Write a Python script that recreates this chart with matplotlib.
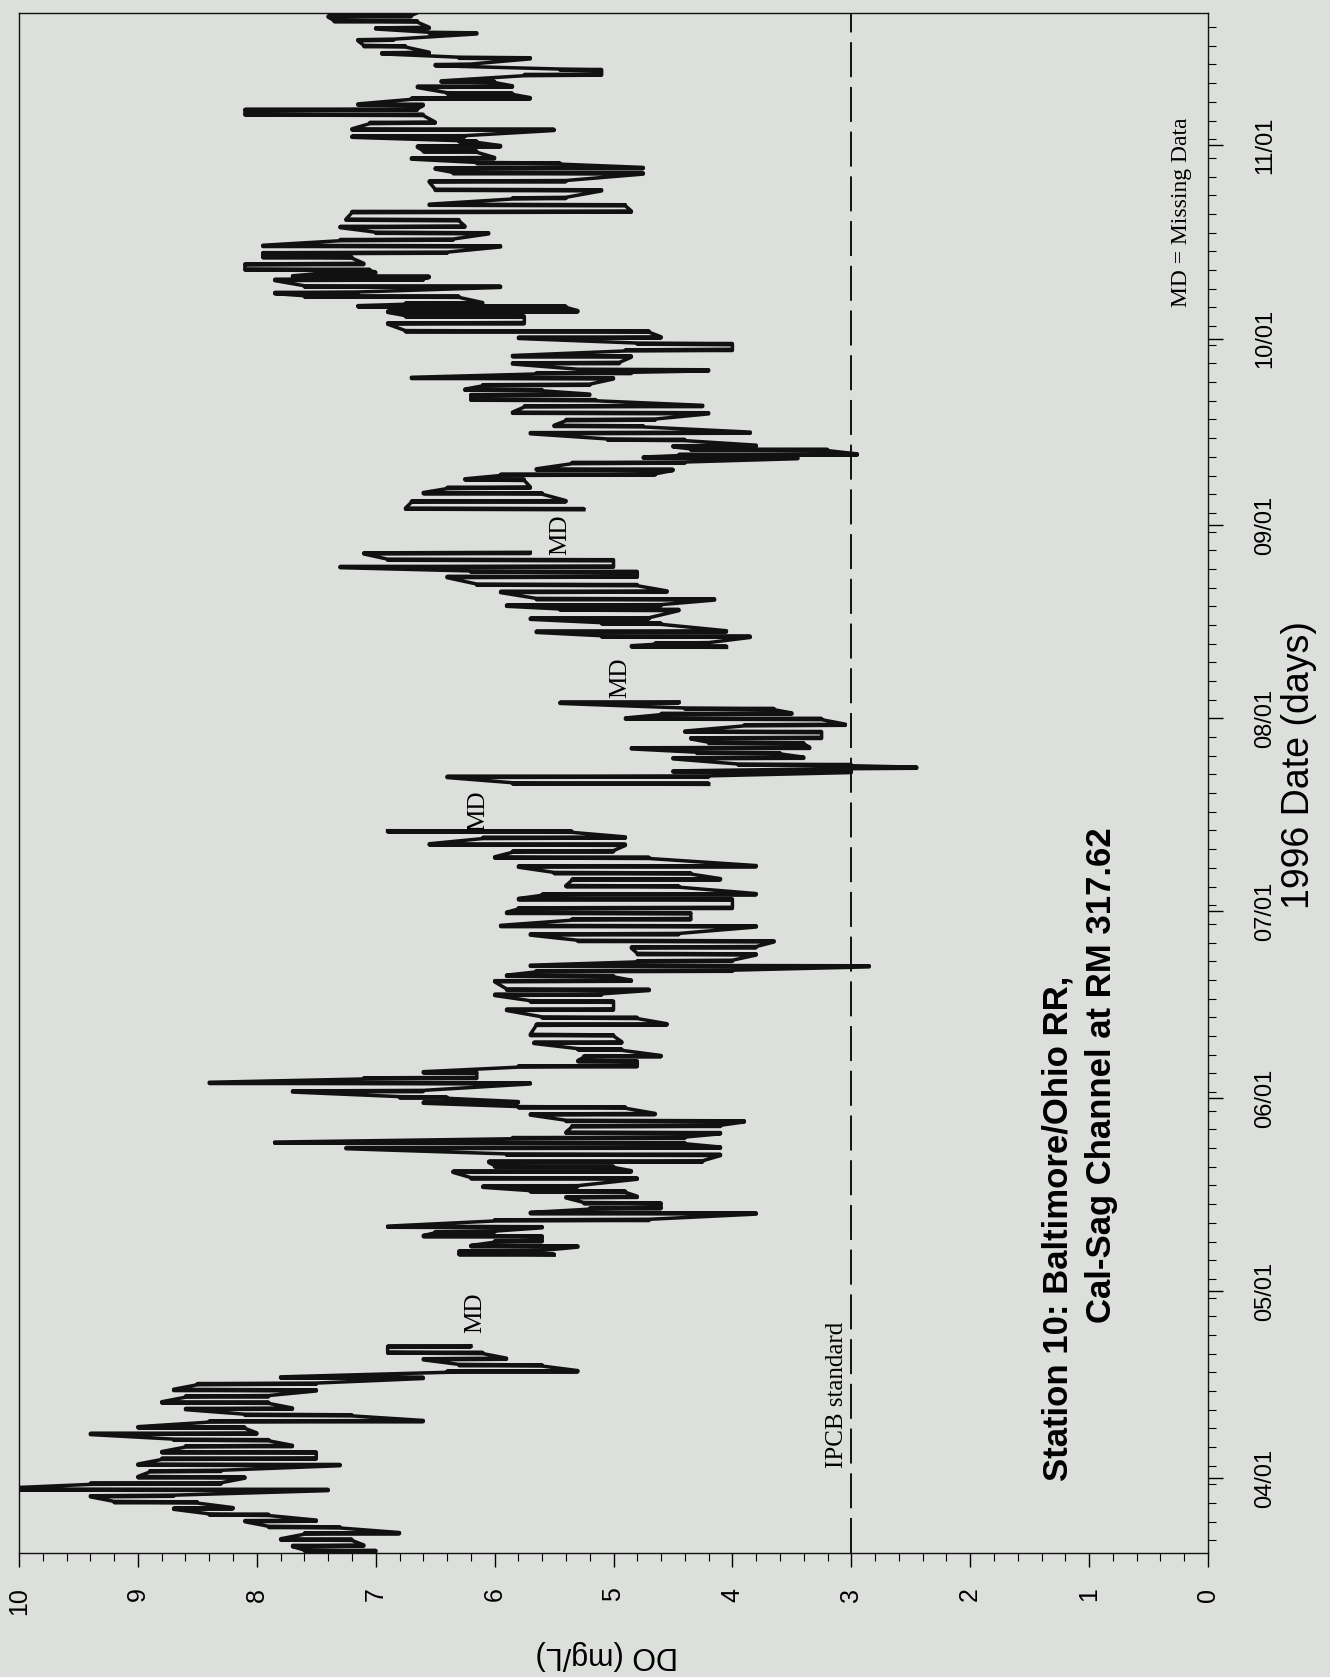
import numpy as np
import matplotlib.pyplot as plt
from matplotlib.ticker import FixedLocator, MultipleLocator

plt.rcParams['font.family'] = ['Liberation Sans', 'DejaVu Sans']

# days counted from 04/01/1996, with the low / high DO (mg/L) read for each stretch
seg1_day = [-11.8, -11, -10, -9, -8, -7, -6, -5, -4, -3, -2, -1, 0, 1, 2, 3, 4, 5, 6, 7,
            8, 9, 10, 11, 12, 13, 14, 15, 16, 17, 18, 19, 20, 21]
seg1_lo = [7.0, 7.1, 7.2, 6.8, 7.3, 7.5, 7.9, 8.2, 8.5, 8.7, 7.4, 8.3, 8.1, 8.3, 7.3, 7.5, 7.5, 7.7, 7.9, 8.0,
           8.1, 6.6, 7.2, 7.7, 7.9, 7.9, 7.5, 7.5, 6.6, 5.3, 5.6, 5.9, 6.1, 6.2]
seg1_hi = [7.6, 7.7, 7.8, 7.6, 7.9, 8.1, 8.4, 8.7, 9.2, 9.4, 10.3, 9.4, 9.0, 8.9, 9.0, 8.8, 8.8, 8.6, 8.7, 9.4,
           9.0, 8.4, 8.1, 8.6, 8.8, 8.6, 8.7, 8.5, 7.8, 6.4, 6.3, 6.6, 6.9, 6.9]

seg2_day = [35.8, 36.3, 37.1, 37.9, 38.7, 39.4, 40.2, 41.3, 42.4, 43.2,
            44.0, 45.0, 45.9, 46.7, 48.0, 49.1, 49.9, 50.7, 51.8, 52.9,
            53.7, 54.5, 55.3, 56.4, 57.2, 58.3, 59.4, 60.2, 61.0, 62.0,
            63.3, 64.1, 65.0, 66.0, 66.8, 67.6, 68.7, 69.8, 71.0, 72.7,
            73.8, 75.1, 76.4, 77.5, 78.3, 79.7, 80.5, 81.3, 82.1, 82.9,
            84.0, 85.1, 86.1, 87.2, 88.5, 89.6, 90.6, 91.4, 92.8, 93.6,
            94.9, 96.0, 97.0, 98.1, 99.5, 100.5, 101.6, 102.7, 103.7]
seg2_lo = [5.5, 5.6, 5.3, 5.6, 5.6, 6.0, 5.6, 4.7, 3.8, 4.6,
           4.6, 4.8, 4.9, 5.3, 4.8, 4.85, 5.0, 4.25, 4.1, 4.1,
           4.4, 4.4, 4.1, 4.1, 3.9, 4.65, 4.9, 5.8, 6.4, 6.6,
           5.7, 6.15, 6.15, 4.8, 4.8, 4.6, 4.93, 4.93, 5.0, 4.55,
           4.8, 5.0, 5.0, 5.1, 4.7, 4.85, 5.0, 4.0, 2.85, 4.0,
           3.8, 3.8, 3.65, 4.45, 3.8, 4.35, 4.35, 4.0, 4.0, 3.8,
           4.45, 4.1, 4.35, 3.8, 4.7, 5.0, 4.9, 4.9, 5.35]
seg2_hi = [6.3, 6.3, 6.2, 6.0, 6.6, 6.5, 6.9, 6.0, 5.7, 5.2,
           5.25, 5.4, 5.7, 6.1, 6.2, 6.35, 6.0, 6.05, 5.9, 7.25,
           7.85, 5.85, 5.4, 5.35, 5.4, 5.7, 5.8, 6.6, 6.8, 7.7,
           8.4, 7.1, 6.6, 5.8, 5.3, 5.25, 5.3, 5.67, 5.7, 5.65,
           5.6, 5.9, 5.7, 6.0, 5.9, 6.0, 5.9, 5.65, 5.7, 4.8,
           4.8, 4.85, 5.3, 5.7, 5.95, 5.35, 5.9, 5.8, 5.8, 5.6,
           5.4, 5.35, 5.5, 5.8, 6.0, 5.85, 6.55, 6.1, 6.9]

seg3_day = [111.4, 112.5, 113.3, 113.9, 114.4, 115.5, 116.3, 117.1, 117.9, 118.7,
            119.7, 120.8, 121.8, 122.6, 123.4, 124.4]
seg3_lo = [4.2, 4.2, 3.0, 2.45, 3.0, 3.4, 3.6, 3.35, 3.4, 3.25, 3.25, 3.05, 3.25, 3.5, 3.65, 4.45]
seg3_hi = [5.85, 6.4, 4.5, 3.15, 3.95, 4.5, 4.3, 4.85, 4.2, 4.35, 4.4, 3.9, 4.9, 4.6, 4.4, 5.45]

seg4_day = [133.4, 133.9, 135.0, 135.8, 137.1, 137.9, 139.3, 140.0, 141.0, 142.2,
            143.3, 144.6, 145.4, 146.2, 147.3, 148.4]
seg4_lo = [4.05, 4.2, 3.85, 4.05, 4.6, 4.7, 4.45, 4.6, 4.15, 4.55, 4.8, 4.8, 4.8, 5.0, 5.0, 5.7]
seg4_hi = [4.85, 4.65, 5.1, 5.65, 5.1, 5.7, 5.45, 5.9, 5.65, 5.95, 6.15, 6.4, 6.2, 7.3, 6.9, 7.1]

seg5_day = [155.5, 156.7, 158.0, 158.9, 160.2, 161.0, 161.8, 162.9, 163.7, 164.2,
            165.0, 165.6, 166.6, 167.7, 168.8, 169.8, 170.9, 172.0, 173.0, 173.8,
            174.6, 175.4, 176.5, 177.3, 177.8, 178.9, 180.0, 181.0, 182.0, 183.0,
            184.0, 185.3, 186.4, 187.2, 188.0, 188.5, 189.6, 190.2, 191.2, 192.3,
            192.8, 193.4, 193.9, 194.8, 195.9, 196.6, 197.7, 198.7, 199.8, 200.8,
            201.9, 203.2, 204.3, 205.4, 206.7, 208.1, 209.4, 210.2, 211.0, 211.8,
            212.9, 213.7, 214.5, 215.3, 216.4, 217.5, 218.8, 219.6, 220.4, 221.4,
            222.2, 223.3, 224.1, 225.2, 226.0, 226.8, 227.9, 228.7, 229.8, 230.8,
            231.9, 232.7, 233.8, 234.6, 235.3]
seg5_lo = [5.25, 5.4, 5.6, 5.7, 5.75, 4.65, 4.5, 4.4, 3.45, 2.95,
           3.2, 3.8, 4.4, 3.85, 4.75, 4.65, 4.2, 4.25, 5.15, 5.2,
           5.6, 5.2, 5.0, 4.85, 4.2, 4.95, 4.85, 4.0, 4.0, 4.6,
           4.7, 5.75, 5.75, 5.3, 5.4, 6.1, 6.3, 7.15, 5.95, 6.6,
           6.55, 7.0, 7.05, 7.1, 7.2, 6.4, 5.95, 6.35, 6.05, 6.25,
           6.3, 4.85, 4.9, 5.4, 5.1, 5.4, 4.75, 4.75, 5.45, 6.0,
           6.15, 5.95, 6.15, 6.25, 5.5, 6.5, 6.6, 6.65, 6.6, 5.7,
           5.85, 5.85, 6.0, 5.1, 5.1, 6.2, 5.7, 6.55, 6.75, 6.85,
           6.15, 6.55, 6.65, 6.7, 6.65]
seg5_hi = [6.75, 6.7, 6.6, 6.4, 6.25, 5.95, 5.65, 5.35, 4.75, 4.45,
           4.35, 4.5, 5.05, 5.7, 5.5, 5.4, 5.85, 5.75, 6.2, 6.2,
           6.25, 6.1, 6.7, 5.65, 5.3, 5.85, 5.85, 4.9, 4.8, 5.8,
           6.75, 6.9, 6.75, 6.9, 7.15, 6.75, 7.6, 7.85, 7.6, 7.85,
           7.7, 7.5, 8.1, 8.1, 7.95, 7.95, 7.95, 7.3, 7.0, 7.3,
           7.25, 7.2, 6.55, 5.85, 6.5, 6.55, 6.35, 6.5, 6.15, 6.7,
           6.6, 6.65, 6.3, 7.2, 7.2, 7.05, 8.1, 8.1, 7.15, 6.7,
           6.4, 6.65, 6.45, 5.75, 5.45, 6.5, 6.3, 6.95, 7.1, 7.15,
           6.55, 7.0, 7.35, 7.4, 7.35]

segments = [(seg1_day, seg1_lo, seg1_hi), (seg2_day, seg2_lo, seg2_hi),
            (seg3_day, seg3_lo, seg3_hi), (seg4_day, seg4_lo, seg4_hi),
            (seg5_day, seg5_lo, seg5_hi)]

month_day = [0, 30, 61, 91, 122, 153, 183, 214]
month_label = ['04/01', '05/01', '06/01', '07/01', '08/01', '09/01', '10/01', '11/01']
do_ticks = [0, 1, 2, 3, 4, 5, 6, 7, 8, 9, 10]

md_day = [26.6, 107.2, 128.6, 151.5]
md_do = [6.16, 6.14, 4.94, 5.45]
ipcb_do = 3.0

bg = '#dcdfdb'
ink = '#111111'
serif = 'Liberation Serif'


def zigzag(day, lo, hi):
    # every stretch swings between its two extremes a couple of times
    x, y = [], []
    for i, (t, a, b) in enumerate(zip(day, lo, hi)):
        if i % 2:
            a, b = b, a
        x += [a, b, a, b]
        y += [t, t + 0.09, t + 0.18, t + 0.27]
    return x, y


fig = plt.figure(figsize=(13.3, 16.77), dpi=100, facecolor=bg)
ax = fig.add_axes([0.0143, 0.074, 0.894, 0.918], facecolor=bg)

for day, lo, hi in segments:
    x, y = zigzag(day, lo, hi)
    ax.plot(x, y, color=ink, lw=2.5)

ax.axvline(ipcb_do, color=ink, lw=1.4, ls=(0, (18, 5)))

ax.set_xlim(10, 0)
ax.set_ylim(-12, 235.2)

ax.xaxis.set_major_locator(FixedLocator(do_ticks))
ax.xaxis.set_minor_locator(MultipleLocator(0.2))
ax.tick_params(axis='x', which='major', direction='out', length=10, width=1,
               labelsize=18, labelrotation=90, pad=15)
ax.tick_params(axis='x', which='minor', direction='out', length=6, width=0.8)

ax.yaxis.tick_right()
ax.set_yticks(month_day)
ax.set_yticklabels(month_label, rotation=90, va='center')
ax.yaxis.set_minor_locator(FixedLocator(np.arange(-10, 236, 3)))
ax.tick_params(axis='y', which='major', direction='out', length=11, width=1,
               labelsize=17, pad=22)
ax.tick_params(axis='y', which='minor', direction='out', length=6, width=0.8)

for s in ax.spines.values():
    s.set_linewidth(1.0)
    s.set_color(ink)

ax.text(ipcb_do + 0.03, 13.4, 'IPCB standard', rotation=90, ha='right', va='center',
        family=serif, fontsize=18)
for d, v in zip(md_day, md_do):
    ax.text(v, d, 'MD', rotation=90, ha='center', va='center', family=serif, fontsize=18)
ax.text(0.22, 203.3, 'MD = Missing Data', rotation=90, ha='center', va='center',
        family=serif, fontsize=17)

ax.text(1.26, -0.5, 'Station 10: Baltimore/Ohio RR,', rotation=90, ha='center', va='bottom',
        fontsize=25, fontweight='bold')
ax.text(0.9, 24.9, 'Cal-Sag Channel at RM 317.62', rotation=90, ha='center', va='bottom',
        fontsize=25, fontweight='bold')

fig.text(0.977, 0.544, '1996 Date (days)', rotation=90, ha='center', va='center', fontsize=27)
fig.text(0.456, 0.013, 'DO (mg/L)', rotation=180, ha='center', va='center', fontsize=22)

fig.savefig('out.png', dpi=100, facecolor=bg)
